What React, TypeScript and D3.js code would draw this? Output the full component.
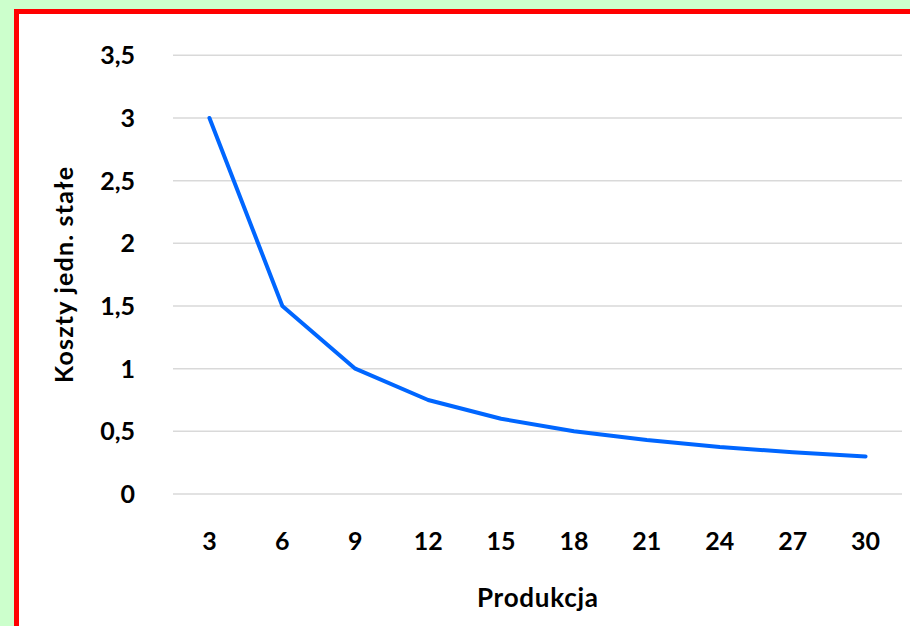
import React from "react";
import * as d3 from "d3";

const categories: string[] = ["3", "6", "9", "12", "15", "18", "21", "24", "27", "30"];
const values: number[] = [3, 1.5, 1, 0.75, 0.6, 0.5, 0.43, 0.375, 0.333, 0.3];
const yTicks: number[] = [0, 0.5, 1, 1.5, 2, 2.5, 3, 3.5];
const yTickLabels: string[] = ["0", "0,5", "1", "1,5", "2", "2,5", "3", "3,5"];
const xTitle = "Produkcja";
const yTitle = "Koszty jedn. stałe";

const W = 910;
const H = 626;
const plotLeft = 173;
const plotRight = 902;
const plotTop = 55.3;
const plotBottom = 494;
const font = "Lato, 'Open Sans', sans-serif";

export default function App() {
  const x = d3.scaleBand<string>().domain(categories).range([plotLeft, plotRight]);
  const y = d3.scaleLinear().domain([0, 3.5]).range([plotBottom, plotTop]);
  const line = d3
    .line<number>()
    .x((_, i) => (x(categories[i]) as number) + x.bandwidth() / 2)
    .y((d) => y(d));

  return (
    <svg
      width={W}
      height={H}
      style={{ position: "fixed", left: 0, top: 0, display: "block" }}
    >
      <rect x={0} y={0} width={W} height={H} fill="#ccffcc" />
      <rect x={16.5} y={11.5} width={W + 20} height={H + 20} fill="#ffffff" stroke="#ff0000" strokeWidth={5} />
      {yTicks.map((t, i) => (
        <g key={"y" + i}>
          <line x1={plotLeft} x2={plotRight} y1={y(t)} y2={y(t)} stroke="#d9d9d9" strokeWidth={1.5} />
          <text
            x={135}
            y={y(t)}
            dy="0.36em"
            textAnchor="end"
            fontFamily={font}
            fontWeight={700}
            fontSize={25}
            fill="#000"
          >
            {yTickLabels[i]}
          </text>
        </g>
      ))}
      {categories.map((c) => (
        <text
          key={"x" + c}
          x={(x(c) as number) + x.bandwidth() / 2}
          y={550}
          textAnchor="middle"
          fontFamily={font}
          fontWeight={700}
          fontSize={25}
          fill="#000"
        >
          {c}
        </text>
      ))}
      <path
        d={line(values) || ""}
        fill="none"
        stroke="#0066ff"
        strokeWidth={4}
        strokeLinejoin="round"
        strokeLinecap="round"
      />
      <text
        x={537.5}
        y={607}
        textAnchor="middle"
        fontFamily={font}
        fontWeight={700}
        fontSize={26}
        textLength={121}
        lengthAdjust="spacing"
        fill="#000"
      >
        {xTitle}
      </text>
      <text
        transform={`translate(73, 275) rotate(-90)`}
        textAnchor="middle"
        fontFamily={font}
        fontWeight={700}
        fontSize={25}
        textLength={216}
        lengthAdjust="spacing"
        fill="#000"
      >
        {yTitle}
      </text>
    </svg>
  );
}
